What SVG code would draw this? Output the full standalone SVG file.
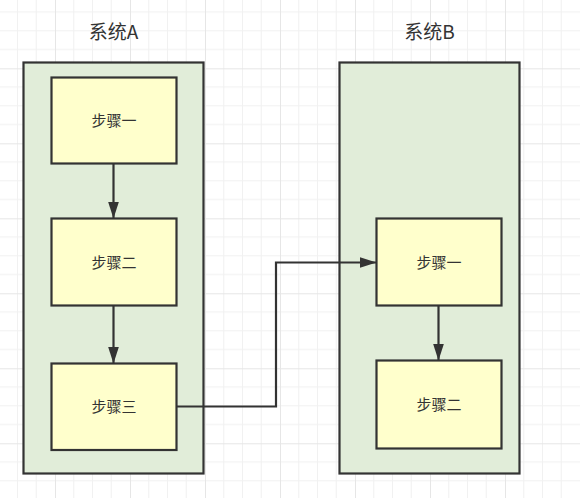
<svg xmlns="http://www.w3.org/2000/svg" width="580" height="498" viewBox="0 0 580 498">
<defs>
<pattern id="grid" patternUnits="userSpaceOnUse" x="-20" y="-6.7" width="75" height="75">
<rect width="75" height="75" fill="#ffffff"/>
<g stroke="#f1f1f1" stroke-width="1">
<line x1="18.75" y1="0" x2="18.75" y2="75"/>
<line x1="37.5" y1="0" x2="37.5" y2="75"/>
<line x1="56.25" y1="0" x2="56.25" y2="75"/>
<line x1="0" y1="18.75" x2="75" y2="18.75"/>
<line x1="0" y1="37.5" x2="75" y2="37.5"/>
<line x1="0" y1="56.25" x2="75" y2="56.25"/>
</g>
<g stroke="#e6e6e6" stroke-width="1">
<line x1="0.5" y1="0" x2="0.5" y2="75"/>
<line x1="0" y1="0.5" x2="75" y2="0.5"/>
</g>
</pattern>
<marker id="arrow" markerUnits="userSpaceOnUse" markerWidth="18" markerHeight="12" refX="17" refY="6" orient="auto">
<path d="M0,0.5 L17,6 L0,11.5 Z" fill="#333333"/>
</marker>
<style>
.container{fill:#e1edd9;stroke:#333333;stroke-width:2.2}
.step{fill:#ffffcc;stroke:#333333;stroke-width:2.2}
.title{font-family:"Noto Sans CJK SC","Noto Sans",sans-serif;font-size:19px;fill:#333333;text-anchor:middle}
.label{font-family:"Noto Sans CJK SC","Noto Sans",sans-serif;font-size:15px;fill:#333333;text-anchor:middle}
.edge{fill:none;stroke:#333333;stroke-width:2.2}
</style>
</defs>
<rect x="0" y="0" width="580" height="498" fill="url(#grid)"/>

<g id="systemA">
<rect class="container" x="23.5" y="62.5" width="180" height="411"/>
<text class="title" x="113.5" y="39">系统A</text>
</g>
<g id="systemB">
<rect class="container" x="339.5" y="62.5" width="180" height="411"/>
<text class="title" x="429.5" y="39">系统B</text>
</g>

<g id="a-step1">
<rect class="step" x="51.5" y="77.5" width="125" height="86"/>
<text class="label" x="114" y="126">步骤一</text>
</g>
<g id="a-step2">
<rect class="step" x="51.5" y="218.5" width="125" height="87"/>
<text class="label" x="114" y="267.5">步骤二</text>
</g>
<g id="a-step3">
<rect class="step" x="51.5" y="363.5" width="125" height="86.5"/>
<text class="label" x="114" y="412">步骤三</text>
</g>
<g id="b-step1">
<rect class="step" x="376.5" y="218.5" width="125" height="87"/>
<text class="label" x="439" y="267.5">步骤一</text>
</g>
<g id="b-step2">
<rect class="step" x="376.5" y="360.5" width="125" height="88"/>
<text class="label" x="439" y="410">步骤二</text>
</g>

<g id="connectors">
<line class="edge" x1="113.5" y1="163.5" x2="113.5" y2="218.5" marker-end="url(#arrow)"/>
<line class="edge" x1="113.5" y1="305.5" x2="113.5" y2="363.5" marker-end="url(#arrow)"/>
<line class="edge" x1="438.5" y1="305.5" x2="438.5" y2="360.5" marker-end="url(#arrow)"/>
<path class="edge" d="M176.5,406.5 L276,406.5 L276,262.5 L376.5,262.5" marker-end="url(#arrow)"/>
</g>
</svg>
